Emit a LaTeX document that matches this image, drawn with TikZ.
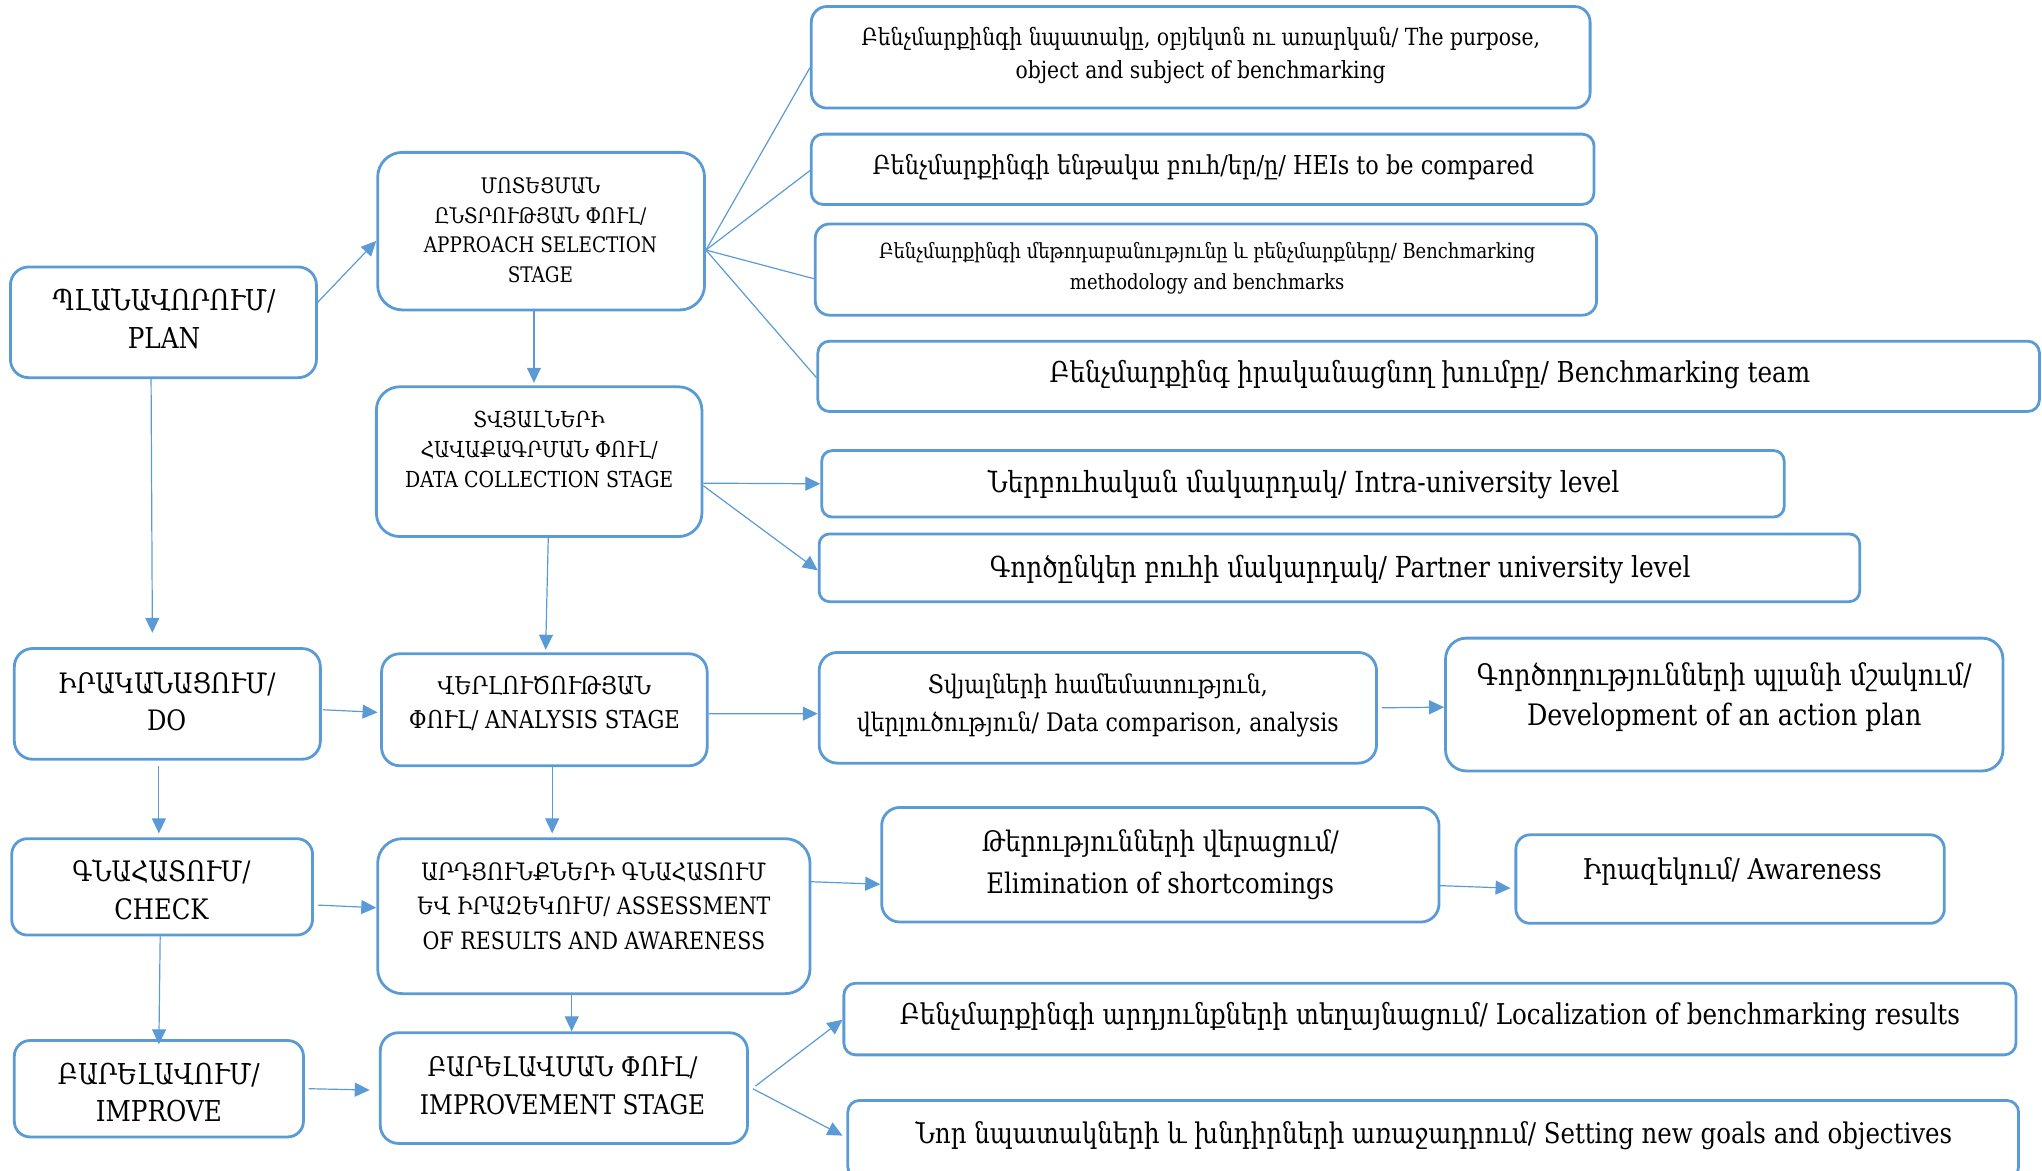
\documentclass[tikz,border=0pt]{standalone}
\usepackage{fontspec}
\setmainfont{DejaVu Serif}[FakeStretch=0.86]
\usetikzlibrary{arrows.meta,calc}
\definecolor{bl}{HTML}{5B9BD5}
\newlength\fitlen
\newcommand\fitto[3]{\settowidth\fitlen{\fontsize{10pt}{12pt}\selectfont #2}%
  \pgfmathsetmacro\fitsz{10*#1*0.6512/\fitlen}%
  \pgfmathsetmacro\fitbs{#3*0.6512}%
  \fontsize{\fitsz pt}{\fitbs pt}\selectfont}
\newcommand\bx[6]{\node[box, rounded corners=#6*0.6512pt, minimum width=#4*0.6512pt, minimum height=#5*0.6512pt] (#1) at (#2,#3) {};}
\tikzset{
  box/.style={draw=bl, line width=1.4pt, inner sep=0pt},
  txt/.style={align=center, inner sep=0pt, text=black},
  conn/.style={draw=bl, line width=0.6pt, -{Triangle[length=7.5pt,width=7pt]}},
  plain/.style={draw=bl, line width=0.6pt},
}
\begin{document}
\begin{tikzpicture}[x=0.6512pt,y=-0.6512pt]
\useasboundingbox (0,0) rectangle (1568,899);
% left column
\bx{A}{125.5}{247.5}{235}{85}{14}
\bx{D}{128.5}{540.5}{235}{85}{14}
\bx{F}{124.5}{681}{231}{74}{12}
\bx{H}{122}{836}{222}{74}{12}
% middle column
\bx{B}{415.5}{177.5}{251}{121}{19}
\bx{C}{414}{354.5}{250}{115}{18}
\bx{E}{418}{545}{250}{86}{14}
\bx{G}{456}{703.5}{332}{119}{19}
\bx{I}{433}{835.5}{282}{85}{14}
% right boxes
\bx{R1}{922}{44}{598}{78}{12}
\bx{R2}{923.5}{130}{601}{54}{9}
\bx{R3}{926}{207}{600}{70}{11}
\bx{R4}{1097}{289}{938}{54}{9}
\bx{R5}{1000.5}{371.5}{739}{51}{8}
\bx{R6}{1028.5}{436}{799}{52}{8}
\bx{R7}{843}{543.5}{428}{85}{14}
\bx{R8}{1324}{541}{428}{102}{16}
\bx{R9}{891}{664}{428}{88}{14}
\bx{R10}{1328.5}{675}{329}{68}{11}
\bx{R11}{1098}{782.5}{900}{55}{9}
\bx{R12}{1100.5}{875}{899}{60}{9}
% texts
\node[txt, font={\fitto{171}{ՊԼԱՆԱՎՈՐՈՒՄ/}{29}}] (At) at (126,244.5) {ՊԼԱՆԱՎՈՐՈՒՄ/\\PLAN};
\node[txt, font={\fitto{179}{APPROACH SELECTION}{23}}] (Bt) at (415,176.5) {ՄՈՏԵՑՄԱՆ\\ԸՆՏՐՈՒԹՅԱՆ ՓՈՒԼ/\\APPROACH SELECTION\\STAGE};
\node[txt, font={\fitto{206}{DATA COLLECTION STAGE}{23}}] (Ct) at (414,345) {ՏՎՅԱԼՆԵՐԻ\\ՀԱՎԱՔԱԳՐՄԱՆ ՓՈՒԼ/\\DATA COLLECTION STAGE};
\node[txt, font={\fitto{167}{ԻՐԱԿԱՆԱՑՈՒՄ/}{29}}] (Dt) at (128,538.5) {ԻՐԱԿԱՆԱՑՈՒՄ/\\DO};
\node[txt, font={\fitto{208}{ՓՈՒԼ/ ANALYSIS STAGE}{26}}] (Et) at (418,540) {ՎԵՐԼՈՒԾՈՒԹՅԱՆ\\ՓՈՒԼ/ ANALYSIS STAGE};
\node[txt, font={\fitto{137}{ԳՆԱՀԱՏՈՒՄ/}{29}}] (Ft) at (124,683.5) {ԳՆԱՀԱՏՈՒՄ/\\CHECK};
\node[txt, font={\fitto{263}{OF RESULTS AND AWARENESS}{26.5}}] (Gt) at (456,695.5) {ԱՐԴՅՈՒՆՔՆԵՐԻ ԳՆԱՀԱՏՈՒՄ\\ԵՎ ԻՐԱԶԵԿՈՒՄ/ ASSESSMENT\\OF RESULTS AND AWARENESS};
\node[txt, font={\fitto{155}{ԲԱՐԵԼԱՎՈՒՄ/}{28}}] (Ht) at (122,839) {ԲԱՐԵԼԱՎՈՒՄ/\\IMPROVE};
\node[txt, font={\fitto{219}{IMPROVEMENT STAGE}{29}}] (It) at (432,833.5) {ԲԱՐԵԼԱՎՄԱՆ ՓՈՒԼ/\\IMPROVEMENT STAGE};
\node[txt, font={\fitto{521}{Բենչմարքինգի նպատակը, օբյեկտն ու առարկան/ The purpose,}{25}}] (R1t) at (922,42.5) {Բենչմարքինգի նպատակը, օբյեկտն ու առարկան/ The purpose,\\object and subject of benchmarking};
\node[txt, font={\fitto{508}{Բենչմարքինգի ենթակա բուհ/եր/ը/ HEIs to be compared}{25}}] (R2t) at (924,128) {Բենչմարքինգի ենթակա բուհ/եր/ը/ HEIs to be compared};
\node[txt, font={\fitto{504}{Բենչմարքինգի մեթոդաբանությունը և բենչմարքները/ Benchmarking}{24}}] (R3t) at (927,206) {Բենչմարքինգի մեթոդաբանությունը և բենչմարքները/ Benchmarking\\methodology and benchmarks};
\node[txt, font={\fitto{584}{Բենչմարքինգ իրականացնող խումբը/ Benchmarking team}{25}}] (R4t) at (1098,288) {Բենչմարքինգ իրականացնող խումբը/ Benchmarking team};
\node[txt, font={\fitto{485}{Ներբուհական մակարդակ/ Intra-university level}{25}}] (R5t) at (1001,372) {Ներբուհական մակարդակ/ Intra-university level};
\node[txt, font={\fitto{538}{Գործընկեր բուհի մակարդակ/ Partner university level}{25}}] (R6t) at (1029,437) {Գործընկեր բուհի մակարդակ/ Partner university level};
\node[txt, font={\fitto{370}{վերլուծություն/ Data comparison, analysis}{29}}] (R7t) at (843,541.5) {Տվյալների համեմատություն,\\վերլուծություն/ Data comparison, analysis};
\node[txt, font={\fitto{380}{Գործողությունների պլանի մշակում/}{31}}] (R8t) at (1324,535.5) {Գործողությունների պլանի մշակում/\\Development of an action plan};
\node[txt, font={\fitto{267}{Elimination of shortcomings}{32}}] (R9t) at (891,664) {Թերությունների վերացում/\\Elimination of shortcomings};
\node[txt, font={\fitto{230}{Իրազեկում/ Awareness}{25}}] (R10t) at (1330,669) {Իրազեկում/ Awareness};
\node[txt, font={\fitto{814}{Բենչմարքինգի արդյունքների տեղայնացում/ Localization of benchmarking results}{25}}] (R11t) at (1098,781) {Բենչմարքինգի արդյունքների տեղայնացում/ Localization of benchmarking results};
\node[txt, font={\fitto{796}{Նոր նպատակների և խնդիրների առաջադրում/ Setting new goals and objectives}{25}}] (R12t) at (1101,872) {Նոր նպատակների և խնդիրների առաջադրում/ Setting new goals and objectives};
% connectors
\draw[conn] ($(A.east)+(0,-15.5)$) -- ($(B.west)+(0,7.5)$);
\draw[plain] ($(B.east)+(0,14.5)$) -- ($(R1.west)+(0,8)$);
\draw[plain] ($(B.east)+(0,14.5)$) -- ($(R2.west)+(0,1)$);
\draw[plain] ($(B.east)+(0,14.5)$) -- ($(R3.west)+(0,7)$);
\draw[plain] ($(B.east)+(0,14.5)$) -- ($(R4.west)+(0,1)$);
\draw[conn] ($(B.south)+(-5.5,0)$) -- ($(C.north)+(-4,-2)$);
\draw[conn] ($(C.east)+(0,16.5)$) -- (R5.west);
\draw[conn] ($(C.east)+(0,18.5)$) -- ($(R6.west)+(0,2)$);
\draw[conn] ($(C.south)+(7,0)$) -- ($(E.north)+(1,-2)$);
\draw[conn] ($(A.south)+(-9.5,0)$) -- ($(D.north)+(-11.5,-11)$);
\draw[conn] ($(D.east)+(1,4.5)$) -- ($(E.west)+(-2,2)$);
\draw[conn] ($(E.east)+(0,3)$) -- ($(R7.west)+(0,4.5)$);
\draw[conn] ($(R7.east)+(3,0)$) -- ($(R8.west)+(0,2)$);
\draw[conn] ($(D.south)+(-6.5,4)$) -- ($(F.north)+(-2.5,-3)$);
\draw[conn] ($(E.south)+(6,0)$) -- ($(G.north)+(-32,-3)$);
\draw[conn] ($(F.east)+(3,14)$) -- ($(G.west)+(0,-6.5)$);
\draw[conn] ($(G.east)+(-2,-26.5)$) -- ($(R9.west)+(0,15)$);
\draw[conn] ($(R9.east)+(-2,16)$) -- ($(R10.west)+(-3,7)$);
\draw[conn] ($(F.south)+(-1.5,0)$) -- ($(H.north)+(0,4)$);
\draw[conn] ($(G.south)+(-17,0)$) -- ($(I.north)+(6,0)$);
\draw[conn] ($(H.east)+(3,0)$) -- ($(I.west)+(-7,1.5)$);
\draw[conn] ($(I.east)+(5,-1.5)$) -- ($(R11.west)+(0,0.5)$);
\draw[conn] ($(I.east)+(3,0.5)$) -- ($(R12.west)+(-3,-3)$);
\end{tikzpicture}
\end{document}
